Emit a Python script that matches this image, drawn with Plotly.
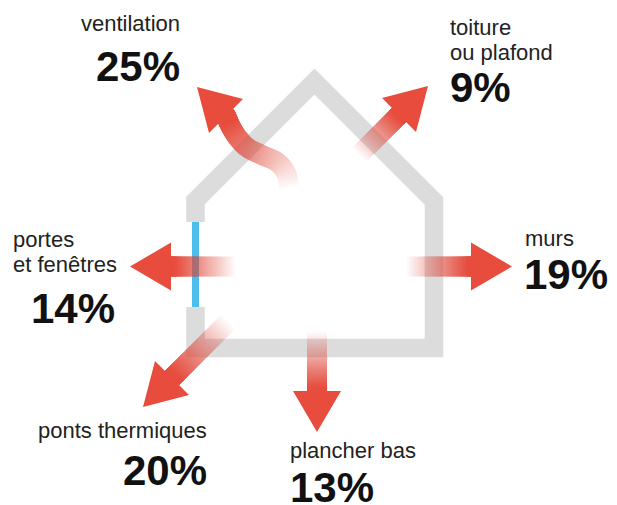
import numpy as np
import plotly.graph_objects as go

# ---------------- data ----------------
names = ["ventilation", "toiture ou plafond", "murs", "plancher bas",
         "ponts thermiques", "portes et fenêtres"]
label_lines = [["ventilation"], ["toiture", "ou plafond"], ["murs"],
               ["plancher bas"], ["ponts thermiques"], ["portes", "et fenêtres"]]
values = [25, 9, 19, 13, 20, 14]

# ---------------- layout / style ----------------
W, H = 617, 505
RED = "231,76,60"
GRAY = "#DCDCDC"
BLUE = "#4DBDEB"
FONT = "Liberation Sans, Arial, sans-serif"
REG, BOLD = 22, 42
LINE_GAP = 25

# (label x, label anchor, first baseline, value x, value anchor, value baseline)
label_pos = [
    (181, "right", 31, 181, "right", 81),
    (449, "left", 35, 449, "left", 102),
    (524, "left", 246, 523, "left", 289),
    (289, "left", 458, 289, "left", 502),
    (208, "right", 438, 208, "right", 485),
    (12, "left", 247, 116, "right", 323),
]

S2 = np.sqrt(0.5)
# arrows: tip, unit direction (towards tip), total length tail->tip
arrow_geo = [
    dict(tip=(197, 87), d=(-S2, -S2),
         path=[(289, 187), (286, 173), (277, 162), (262, 155), (248, 148),
               (238, 138), (231, 127)]),
    dict(tip=(428, 86), d=(S2, -S2), length=97),
    dict(tip=(512, 266.5), d=(1, 0), length=105),
    dict(tip=(317, 432), d=(0, 1), length=100),
    dict(tip=(143, 407), d=(-S2, S2), length=120),
    dict(tip=(130, 266.5), d=(-1, 0), length=105),
]
HEAD_LEN, HEAD_HALF, SHAFT_HALF = 41, 24, 10
N_SLICES = 32

# house outline (centre line of the wall)
house_x = [195.5, 195.5, 314.5, 434, 434, 195.5, 195.5]
house_y = [222, 200.5, 81.5, 201, 348, 348, 307]
WALL_W = 18.5
window = dict(x=195.5, y0=222, y1=307, w=7)


def catmull(pts, n=24):
    pts = np.asarray(pts, float)
    P = np.vstack([2 * pts[0] - pts[1], pts, 2 * pts[-1] - pts[-2]])
    out = []
    for i in range(1, len(P) - 2):
        p0, p1, p2, p3 = P[i - 1], P[i], P[i + 1], P[i + 2]
        for t in np.linspace(0, 1, n, endpoint=False):
            out.append(0.5 * (2 * p1 + (-p0 + p2) * t
                              + (2 * p0 - 5 * p1 + 4 * p2 - p3) * t * t
                              + (-p0 + 3 * p1 - 3 * p2 + p3) * t ** 3))
    out.append(pts[-1])
    return np.array(out)


def resample(pts, M=240):
    d = np.r_[0, np.cumsum(np.hypot(*np.diff(pts, axis=0).T))]
    s = np.linspace(0, d[-1], M)
    c = np.c_[np.interp(s, d, pts[:, 0]), np.interp(s, d, pts[:, 1])]
    g = np.gradient(c, axis=0)
    g /= np.linalg.norm(g, axis=1)[:, None]
    n = np.c_[-g[:, 1], g[:, 0]]
    return c, n, s


def poly_path(pts):
    return "M " + " L ".join(f"{x:.2f},{y:.2f}" for x, y in pts) + " Z"


shapes = []
# house
shapes.append(dict(type="path", xref="x", yref="y", layer="above",
                   path="M " + " L ".join(f"{x},{y}" for x, y in zip(house_x, house_y)),
                   line=dict(color=GRAY, width=WALL_W)))
shapes.append(dict(type="line", xref="x", yref="y", layer="above",
                   x0=window["x"], x1=window["x"], y0=window["y0"], y1=window["y1"],
                   line=dict(color=BLUE, width=window["w"])))

# arrows
for geo in arrow_geo:
    tip = np.array(geo["tip"], float)
    d = np.array(geo["d"], float)
    base = tip - HEAD_LEN * d
    if "path" in geo:
        pts = np.vstack([geo["path"], base])
        pts = catmull(pts)
    else:
        tail = tip - geo["length"] * d
        pts = np.array([tail, base])
    pts = np.vstack([pts, base + 3 * d])
    c, n, s = resample(pts)
    L = s[-1]
    Lf = 0.92 * L
    for k in range(N_SLICES):
        sk = k / N_SLICES * Lf
        i0 = int(np.searchsorted(s, sk))
        left = c[i0:] + SHAFT_HALF * n[i0:]
        right = c[i0:] - SHAFT_HALF * n[i0:]
        poly = np.vstack([left, right[::-1]])
        a = 1.0 / (N_SLICES - k)
        shapes.append(dict(type="path", xref="x", yref="y", layer="above",
                           path=poly_path(poly), fillcolor=f"rgba({RED},{a:.4f})",
                           line=dict(width=0)))
    nh = np.array([-d[1], d[0]])
    head = [base + HEAD_HALF * nh, tip, base - HEAD_HALF * nh]
    shapes.append(dict(type="path", xref="x", yref="y", layer="above",
                       path=poly_path(head), fillcolor=f"rgb({RED})",
                       line=dict(width=0)))

# labels
annotations = []
for lines, v, (lx, la, lb, vx, va, vb) in zip(label_lines, values, label_pos):
    for j, t in enumerate(lines):
        annotations.append(dict(x=lx, y=lb + j * LINE_GAP - 0.3465 * REG, text=t,
                                xref="x", yref="y", xanchor=la, yanchor="middle",
                                showarrow=False, borderpad=0,
                                font=dict(family=FONT, size=REG, color="#222222")))
    annotations.append(dict(x=vx, y=vb - 0.3465 * BOLD, text=f"<b>{v}%</b>",
                            xref="x", yref="y", xanchor=va, yanchor="middle",
                            showarrow=False, borderpad=0,
                            font=dict(family=FONT, size=BOLD, color="#111111")))

fig = go.Figure(go.Scatter(x=[], y=[], hoverinfo="skip", showlegend=False))
fig.update_layout(
    width=W, height=H, autosize=False,
    margin=dict(l=0, r=0, t=0, b=0),
    paper_bgcolor="white", plot_bgcolor="white",
    xaxis=dict(range=[0, W], visible=False, fixedrange=True),
    yaxis=dict(range=[H, 0], visible=False, fixedrange=True),
    shapes=shapes, annotations=annotations, showlegend=False,
)
fig.write_html("out.html", config={"displayModeBar": False},
               post_script="document.body.style.margin='0';document.body.style.overflow='hidden';")
